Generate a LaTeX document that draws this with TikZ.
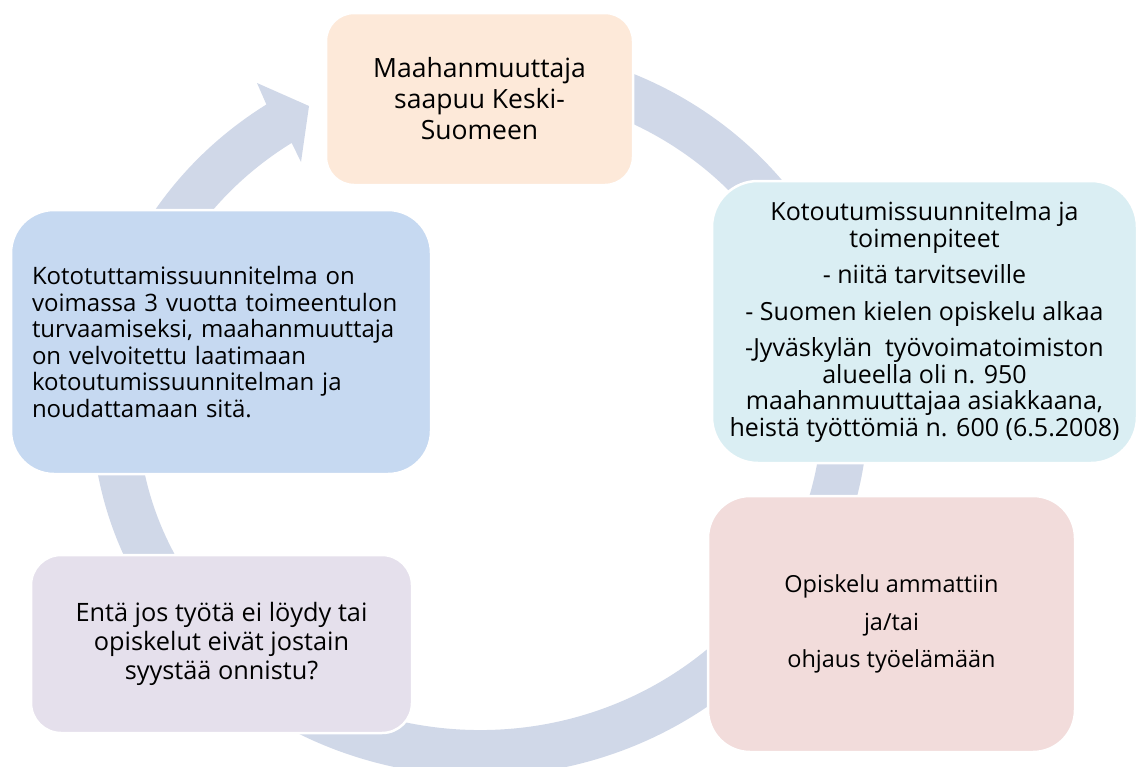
\documentclass[tikz,border=0pt]{standalone}
\usepackage{fontspec}
\setmainfont{Open Sans}
\definecolor{ringc}{RGB}{208,216,232}
\definecolor{topc}{RGB}{253,233,217}
\definecolor{rightc}{RGB}{218,238,243}
\definecolor{leftc}{RGB}{198,217,241}
\definecolor{blc}{RGB}{229,224,236}
\definecolor{brc}{RGB}{242,220,219}
\begin{document}
\begin{tikzpicture}[x=1pt,y=-1pt,
  cbox/.style={rectangle, draw=white, line width=2.5pt, inner sep=0pt, align=center, text=black}]
\useasboundingbox (0,0) rectangle (1138,766);
\fill[white] (0,0) rectangle (1138,766);
% cycle arrow ring
\fill[ringc] (580.4,56.5) arc[start angle=-75,end angle=236.6,x radius=388,y radius=366]
  -- (257,83) -- (309,106) -- (301,162) -- (291.7,142.9)
  arc[start angle=236.6,end angle=-75,x radius=342,y radius=320] -- cycle;
% boxes
\node[cbox, fill=topc, minimum width=307pt, minimum height=172pt, rounded corners=28pt,
  font=\fontsize{26.5}{31}\selectfont] (top) at (479.5,99)
  {Maahanmuuttaja\\saapuu Keski-\\Suomeen};
\node[cbox, fill=rightc, minimum width=425pt, minimum height=282pt, rounded corners=46pt,
  font=\fontsize{25}{26.5}\selectfont] (right) at (924.5,322)
  {Kotoutumissuunnitelma ja\\toimenpiteet\\[10pt]- niitä tarvitseville\\[10pt]- Suomen kielen opiskelu alkaa\\[10pt]-Jyväskylän\ \ työvoimatoimiston\\alueella oli n. 950\\maahanmuuttajaa asiakkaana,\\heistä työttömiä n. 600 (6.5.2008)};
\node[cbox, fill=leftc, text width=378pt, inner xsep=21pt, align=left, minimum height=264pt, rounded corners=43pt,
  font=\fontsize{24}{26.5}\selectfont] (left) at (221,342)
  {Kototuttamissuunnitelma on\\voimassa 3 vuotta toimeentulon\\turvaamiseksi, maahanmuuttaja\\on velvoitettu laatimaan\\kotoutumissuunnitelman ja\\noudattamaan sitä.};
\node[cbox, fill=blc, minimum width=381pt, minimum height=178pt, rounded corners=30pt,
  font=\fontsize{25.3}{29}\selectfont] (botleft) at (221.5,644)
  {Entä jos työtä ei löydy tai\\opiskelut eivät jostain\\syystää onnistu?};
\node[cbox, fill=brc, minimum width=367pt, minimum height=256pt, rounded corners=42pt,
  font=\fontsize{23.5}{28}\selectfont] (botright) at (891.5,624)
  {Opiskelu ammattiin\\[9.5pt]ja/tai\\[9.5pt]ohjaus työelämään};
\end{tikzpicture}
\end{document}
